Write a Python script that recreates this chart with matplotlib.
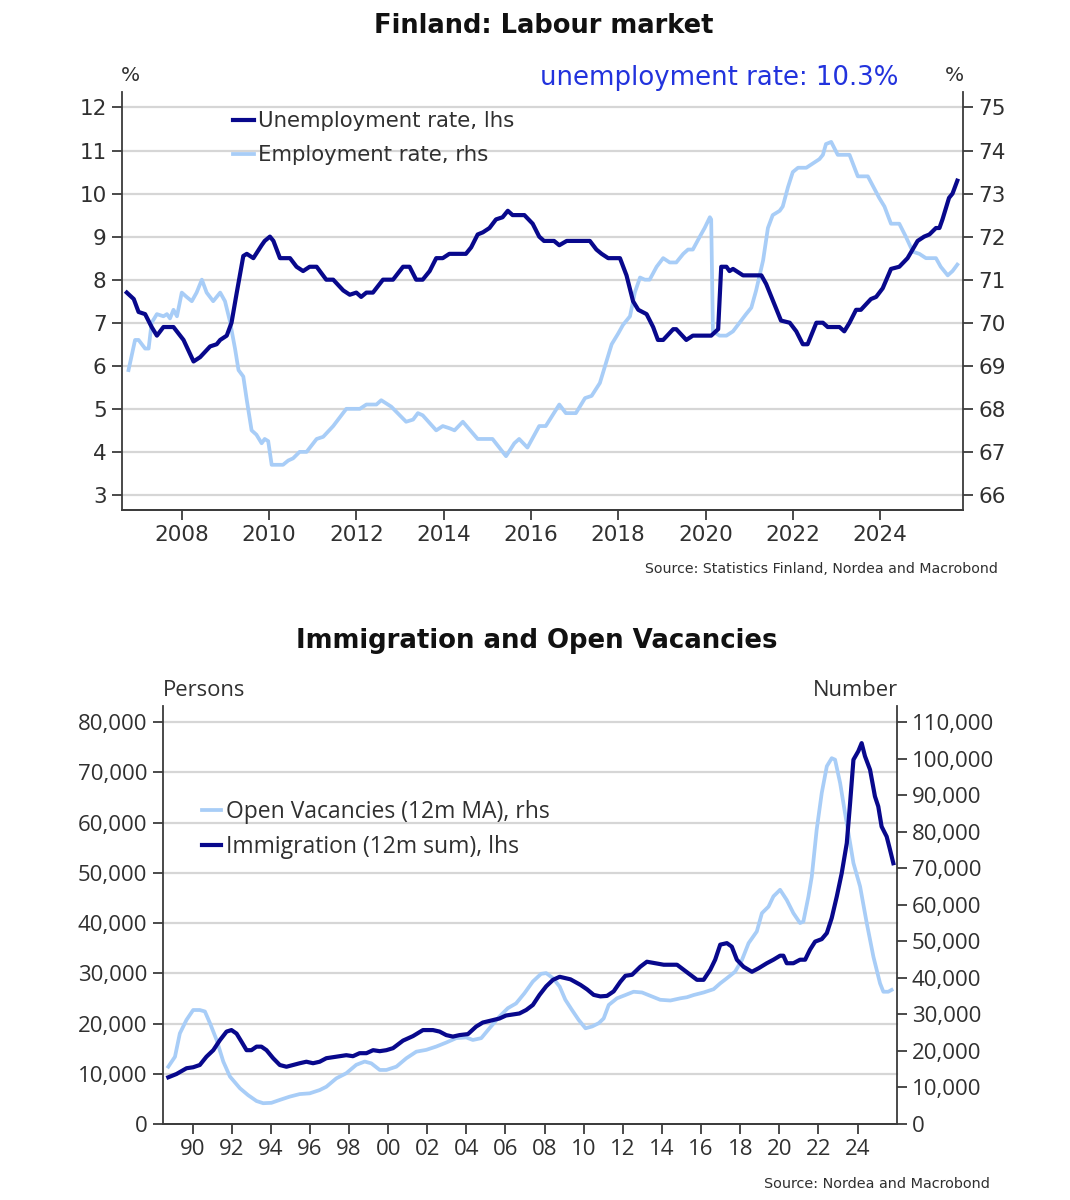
import matplotlib
matplotlib.use("Agg")
import matplotlib.pyplot as plt
from matplotlib.ticker import FuncFormatter

# ── Data ────────────────────────────────────────────────────────────────────

unemp_t = [2006.74, 2006.90, 2007.01, 2007.16, 2007.31, 2007.43, 2007.58, 2007.81,
           2008.04, 2008.27, 2008.42, 2008.65, 2008.80, 2008.88, 2009.03, 2009.14,
           2009.26, 2009.41, 2009.49, 2009.64, 2009.83, 2009.90, 2010.02, 2010.10,
           2010.25, 2010.48, 2010.63, 2010.78, 2010.93, 2011.09, 2011.31, 2011.47,
           2011.70, 2011.85, 2012.00, 2012.11, 2012.23, 2012.38, 2012.61, 2012.84,
           2013.07, 2013.22, 2013.37, 2013.52, 2013.68, 2013.83, 2013.98, 2014.13,
           2014.51, 2014.63, 2014.78, 2014.90, 2015.05, 2015.20, 2015.35, 2015.47,
           2015.58, 2015.85, 2016.04, 2016.19, 2016.30, 2016.53, 2016.65, 2016.82,
           2017.35, 2017.50, 2017.62, 2017.77, 2018.04, 2018.19, 2018.34, 2018.46,
           2018.65, 2018.80, 2018.91, 2019.03, 2019.26, 2019.33, 2019.56, 2019.71,
           2020.13, 2020.29, 2020.36, 2020.48, 2020.55, 2020.63, 2020.86, 2021.28,
           2021.39, 2021.73, 2021.93, 2022.08, 2022.23, 2022.34, 2022.54, 2022.69,
           2022.80, 2023.07, 2023.18, 2023.30, 2023.45, 2023.56, 2023.79, 2023.91,
           2024.06, 2024.25, 2024.44, 2024.63, 2024.86, 2025.01, 2025.13, 2025.28,
           2025.36, 2025.43, 2025.58, 2025.66, 2025.77]
unemp_v = [7.7, 7.55, 7.25, 7.2, 6.9, 6.7, 6.9, 6.9,
           6.6, 6.1, 6.2, 6.45, 6.5, 6.6, 6.7, 7.0,
           7.7, 8.55, 8.6, 8.5, 8.8, 8.9, 9.0, 8.9,
           8.5, 8.5, 8.3, 8.2, 8.3, 8.3, 8.0, 8.0,
           7.75, 7.65, 7.7, 7.6, 7.7, 7.7, 8.0, 8.0,
           8.3, 8.3, 8.0, 8.0, 8.2, 8.5, 8.5, 8.6,
           8.6, 8.75, 9.05, 9.1, 9.2, 9.4, 9.45, 9.6,
           9.5, 9.5, 9.3, 9.0, 8.9, 8.9, 8.8, 8.9,
           8.9, 8.7, 8.6, 8.5, 8.5, 8.1, 7.5, 7.3,
           7.2, 6.9, 6.6, 6.6, 6.85, 6.85, 6.6, 6.7,
           6.7, 6.85, 8.3, 8.3, 8.2, 8.25, 8.1, 8.1,
           7.9, 7.05, 7.0, 6.8, 6.5, 6.5, 7.0, 7.0,
           6.9, 6.9, 6.8, 7.0, 7.3, 7.3, 7.55, 7.6,
           7.8, 8.25, 8.3, 8.5, 8.9, 9.0, 9.05, 9.2,
           9.2, 9.4, 9.9, 10.0, 10.3]

emp_t = [2006.78, 2006.93, 2007.01, 2007.16, 2007.24, 2007.31, 2007.43, 2007.58,
         2007.66, 2007.73, 2007.81, 2007.89, 2008.00, 2008.11, 2008.23, 2008.34,
         2008.46, 2008.57, 2008.72, 2008.88, 2008.99, 2009.10, 2009.22, 2009.30,
         2009.41, 2009.49, 2009.60, 2009.71, 2009.83, 2009.90, 2009.98, 2010.06,
         2010.32, 2010.44, 2010.55, 2010.70, 2010.86, 2011.09, 2011.24, 2011.47,
         2011.77, 2012.08, 2012.23, 2012.46, 2012.57, 2012.80, 2013.14, 2013.30,
         2013.41, 2013.52, 2013.83, 2013.98, 2014.13, 2014.25, 2014.44, 2014.78,
         2015.12, 2015.43, 2015.62, 2015.73, 2015.92, 2016.19, 2016.34, 2016.65,
         2016.80, 2017.03, 2017.24, 2017.39, 2017.58, 2017.73, 2017.85, 2018.00,
         2018.11, 2018.27, 2018.38, 2018.50, 2018.61, 2018.72, 2018.88, 2019.03,
         2019.18, 2019.33, 2019.49, 2019.60, 2019.71, 2019.87, 2019.98, 2020.10,
         2020.13, 2020.17, 2020.32, 2020.48, 2020.63, 2020.78, 2020.93, 2021.05,
         2021.16, 2021.32, 2021.43, 2021.54, 2021.70, 2021.77, 2021.89, 2022.00,
         2022.12, 2022.31, 2022.46, 2022.61, 2022.69, 2022.76, 2022.88, 2023.03,
         2023.30, 2023.49, 2023.72, 2023.98, 2024.10, 2024.25, 2024.44, 2024.59,
         2024.75, 2024.90, 2025.05, 2025.28, 2025.39, 2025.55, 2025.66, 2025.77]
emp_v = [68.9, 69.6, 69.6, 69.4, 69.4, 70.0, 70.2, 70.15,
         70.2, 70.1, 70.3, 70.15, 70.7, 70.6, 70.5, 70.7,
         71.0, 70.7, 70.5, 70.7, 70.5, 70.05, 69.4, 68.9,
         68.75, 68.2, 67.5, 67.4, 67.2, 67.3, 67.25, 66.7,
         66.7, 66.8, 66.85, 67.0, 67.0, 67.3, 67.35, 67.6,
         68.0, 68.0, 68.1, 68.1, 68.2, 68.05, 67.7, 67.75,
         67.9, 67.85, 67.5, 67.6, 67.55, 67.5, 67.7, 67.3,
         67.3, 66.9, 67.2, 67.3, 67.1, 67.6, 67.6, 68.1,
         67.9, 67.9, 68.25, 68.3, 68.6, 69.1, 69.5, 69.75,
         69.95, 70.15, 70.7, 71.05, 71.0, 71.0, 71.3, 71.5,
         71.4, 71.4, 71.6, 71.7, 71.7, 72.0, 72.2, 72.45,
         72.4, 69.8, 69.7, 69.7, 69.8, 70.0, 70.2, 70.35,
         70.75, 71.45, 72.2, 72.5, 72.6, 72.7, 73.15, 73.5,
         73.6, 73.6, 73.7, 73.8, 73.9, 74.15, 74.2, 73.9,
         73.9, 73.4, 73.4, 72.9, 72.7, 72.3, 72.3, 72.0,
         71.65, 71.6, 71.5, 71.5, 71.3, 71.1, 71.2, 71.35]

immig_t = [1988.76, 1989.18, 1989.69, 1990.03, 1990.37, 1990.71, 1991.06, 1991.40,
           1991.74, 1991.99, 1992.25, 1992.50, 1992.76, 1993.01, 1993.27, 1993.52,
           1993.78, 1994.12, 1994.46, 1994.80, 1995.14, 1995.48, 1995.82, 1996.16,
           1996.50, 1996.84, 1997.35, 1997.86, 1998.20, 1998.54, 1998.89, 1999.23,
           1999.57, 1999.91, 2000.25, 2000.76, 2001.27, 2001.78, 2002.29, 2002.63,
           2002.97, 2003.31, 2003.65, 2004.08, 2004.50, 2004.84, 2005.27, 2005.69,
           2006.03, 2006.37, 2006.71, 2007.06, 2007.40, 2007.74, 2008.08, 2008.43,
           2008.77, 2009.32, 2009.83, 2010.17, 2010.51, 2010.85, 2011.19, 2011.53,
           2011.87, 2012.13, 2012.47, 2012.89, 2013.23, 2013.66, 2014.09, 2014.43,
           2014.77, 2015.11, 2015.45, 2015.79, 2016.13, 2016.47, 2016.72, 2016.98,
           2017.32, 2017.57, 2017.83, 2018.17, 2018.60, 2018.94, 2019.36, 2019.70,
           2020.04, 2020.21, 2020.38, 2020.72, 2021.06, 2021.32, 2021.57, 2021.83,
           2022.17, 2022.43, 2022.68, 2022.94, 2023.19, 2023.45, 2023.62, 2023.79,
           2024.04, 2024.21, 2024.38, 2024.64, 2024.89, 2025.06, 2025.23, 2025.49,
           2025.66, 2025.83]
immig_v = [9300, 9960, 11100, 11300, 11750, 13400, 14700, 16700,
           18400, 18700, 18000, 16400, 14700, 14700, 15400, 15400,
           14700, 13100, 11750, 11400, 11750, 12100, 12400, 12100,
           12400, 13100, 13400, 13700, 13500, 14100, 14100, 14700,
           14500, 14700, 15100, 16600, 17500, 18700, 18700, 18400,
           17700, 17400, 17700, 17900, 19400, 20200, 20600, 21000,
           21600, 21800, 22000, 22700, 23700, 25700, 27400, 28700,
           29300, 28800, 27700, 26800, 25700, 25400, 25500, 26400,
           28300, 29500, 29700, 31300, 32300, 32000, 31700, 31700,
           31700, 30700, 29700, 28700, 28700, 30700, 32700, 35700,
           36000, 35300, 32700, 31300, 30300, 31000, 32000, 32700,
           33500, 33500, 32000, 32000, 32700, 32700, 34700, 36300,
           36800, 38000, 41000, 45300, 49900, 55900, 63900, 72500,
           74200, 75800, 73200, 70500, 65200, 63200, 59200, 57200,
           54600, 51900]

vac_t = [1988.76, 1989.10, 1989.35, 1989.69, 1990.03, 1990.37, 1990.63, 1990.89,
         1991.23, 1991.57, 1991.91, 1992.42, 1992.84, 1993.27, 1993.61, 1994.03,
         1994.46, 1994.97, 1995.48, 1995.99, 1996.50, 1996.84, 1997.35, 1997.86,
         1998.37, 1998.80, 1999.14, 1999.57, 1999.91, 2000.42, 2000.93, 2001.44,
         2001.95, 2002.46, 2002.97, 2003.48, 2003.99, 2004.33, 2004.76, 2005.18,
         2005.69, 2006.12, 2006.54, 2006.97, 2007.40, 2007.82, 2008.08, 2008.43,
         2008.77, 2009.06, 2009.40, 2009.74, 2010.09, 2010.43, 2010.77, 2011.02,
         2011.28, 2011.70, 2012.13, 2012.55, 2012.98, 2013.49, 2013.91, 2014.43,
         2014.94, 2015.28, 2015.62, 2016.13, 2016.64, 2016.98, 2017.32, 2017.74,
         2018.09, 2018.43, 2018.85, 2019.11, 2019.45, 2019.70, 2020.04, 2020.38,
         2020.72, 2021.06, 2021.23, 2021.49, 2021.66, 2021.91, 2022.17, 2022.43,
         2022.68, 2022.85, 2023.11, 2023.36, 2023.62, 2023.79, 2024.13, 2024.47,
         2024.81, 2025.15, 2025.32, 2025.57, 2025.74]
vac_v = [15700, 18400, 24800, 28500, 31200, 31200, 30800, 27600,
         23000, 17100, 13000, 9800, 7900, 6300, 5700, 5800,
         6600, 7500, 8200, 8400, 9300, 10200, 12500, 13900,
         16200, 17100, 16600, 14800, 14800, 15700, 18000, 19800,
         20300, 21200, 22300, 23500, 23700, 23000, 23500, 26200,
         29400, 31700, 33000, 35800, 39000, 41100, 41300, 39900,
         37600, 34000, 31200, 28500, 26200, 26700, 27600, 28900,
         32600, 34400, 35300, 36200, 36000, 34900, 34000, 33800,
         34400, 34700, 35300, 36000, 36900, 38500, 39900, 41700,
         44900, 49500, 52700, 57700, 59500, 62300, 64100, 61300,
         57700, 55000, 55400, 62300, 67700, 80500, 90600, 97900,
         100100, 99700, 93300, 85100, 76900, 71400, 65000, 55000,
         45800, 38500, 36200, 36200, 36700]

top_years = list(range(2008, 2025, 2))
top_lhs_ticks = list(range(3, 13))
top_rhs_ticks = list(range(66, 76))
bot_years = list(range(1990, 2025, 2))
bot_lhs_ticks = list(range(0, 80001, 10000))
bot_rhs_ticks = list(range(0, 110001, 10000))

# ── Styling ─────────────────────────────────────────────────────────────────

DARK = "#08088c"
LIGHT = "#a8cdf7"
GRID = "#d6d6d6"
SPINE = "#3c3c3c"
TXT = "#303030"

fig = plt.figure(figsize=(10.7, 12), dpi=100)


def style_axes(ax_l, ax_r, fs, family):
    for ax in (ax_l, ax_r):
        ax.spines["top"].set_visible(False)
        for s in ("left", "right", "bottom"):
            ax.spines[s].set_color(SPINE)
            ax.spines[s].set_linewidth(1.3)
        ax.tick_params(axis="both", length=7, width=1.3, color=SPINE,
                       labelsize=fs, labelcolor=TXT, pad=4)
        for lab in ax.get_xticklabels() + ax.get_yticklabels():
            lab.set_family(family)
    ax_r.spines["left"].set_visible(False)
    ax_l.spines["right"].set_visible(False)


def add_grid(ax_l, ax_r, ticks):
    # grid lines live in the back axes so both series are drawn on top
    for v in ticks:
        ax_r.plot([0, 1], [v, v], transform=ax_l.get_yaxis_transform(),
                  color=GRID, lw=1.6, zorder=0, clip_on=False)


# ── Top: Finland labour market ──────────────────────────────────────────────

ax1 = fig.add_axes([0.114, 0.575, 0.786, 0.348])
ax1r = ax1.twinx()
ax1.set_zorder(ax1r.get_zorder() + 1)
ax1.patch.set_visible(False)

ax1.set_xlim(2006.63, 2025.9)
ax1.set_ylim(2.65, 12.35)
ax1r.set_ylim(65.65, 75.35)
ax1.set_xticks(top_years)
ax1.set_xticklabels([str(y) for y in top_years])
ax1.set_yticks(top_lhs_ticks)
ax1r.set_yticks(top_rhs_ticks)
add_grid(ax1, ax1r, top_lhs_ticks)

ax1r.plot(emp_t, emp_v, color=LIGHT, lw=2.7, zorder=2,
          label="Employment rate, rhs")
ax1.plot(unemp_t, unemp_v, color=DARK, lw=3.0, zorder=3,
         label="Unemployment rate, lhs")
style_axes(ax1, ax1r, 15.5, "DejaVu Sans")

h1 = ax1.get_lines() + [ax1r.get_lines()[-1]]
ax1.legend(h1, [h.get_label() for h in h1], loc="upper left",
           bbox_to_anchor=(233 / 1070, 1 - 111 / 1200),
           bbox_transform=fig.transFigure, frameon=False, fontsize=15.3,
           handlelength=1.0, handletextpad=0.2, labelspacing=0.68,
           borderaxespad=0, borderpad=0, labelcolor=TXT)

fig.text(0.508, 0.978, "Finland: Labour market", ha="center", va="center",
         fontsize=18.5, fontweight="bold", color="#111111")
fig.text(0.122, 0.937, "%", ha="center", va="center", fontsize=14.5, color=TXT)
fig.text(0.892, 0.937, "%", ha="center", va="center", fontsize=14.5, color=TXT)
fig.text(0.672, 0.935, "unemployment rate: 10.3%", ha="center", va="center",
         fontsize=18.7, color="#2233dd")
fig.text(0.933, 0.526, "Source: Statistics Finland, Nordea and Macrobond",
         ha="right", va="center", fontsize=10.2, color=TXT)

# ── Bottom: immigration and open vacancies ──────────────────────────────────

ax2 = fig.add_axes([0.152, 0.0633, 0.686, 0.348])
ax2r = ax2.twinx()
ax2.set_zorder(ax2r.get_zorder() + 1)
ax2.patch.set_visible(False)

ax2.set_xlim(1988.47, 2026.0)
ax2.set_ylim(0, 83100)
ax2r.set_ylim(0, 83100 * 110 / 80)
ax2.set_xticks(bot_years)
ax2.set_xticklabels([f"{y % 100:02d}" for y in bot_years])
ax2.set_yticks(bot_lhs_ticks)
ax2r.set_yticks(bot_rhs_ticks)
comma = FuncFormatter(lambda v, p: f"{int(v):,}")
ax2.yaxis.set_major_formatter(comma)
ax2r.yaxis.set_major_formatter(comma)
add_grid(ax2, ax2r, bot_lhs_ticks[1:])

ax2r.plot(vac_t, vac_v, color=LIGHT, lw=2.7, zorder=2,
          label="Open Vacancies (12m MA), rhs")
ax2.plot(immig_t, immig_v, color=DARK, lw=3.0, zorder=3,
         label="Immigration (12m sum), lhs")
style_axes(ax2, ax2r, 16, "Open Sans")

h2 = [ax2r.get_lines()[-1]] + ax2.get_lines()
ax2.legend(h2, [h.get_label() for h in h2], loc="upper left",
           bbox_to_anchor=(202 / 1070, 1 - 800 / 1200),
           bbox_transform=fig.transFigure, frameon=False,
           prop={"family": "Open Sans", "size": 16.5},
           handlelength=0.85, handletextpad=0.2, labelspacing=0.5,
           borderaxespad=0, borderpad=0, labelcolor=TXT)

fig.text(0.502, 0.466, "Immigration and Open Vacancies", ha="center",
         va="center", fontsize=18.7, fontweight="bold", color="#111111")
fig.text(0.152, 0.425, "Persons", ha="left", va="center", fontsize=15.8,
         family="Open Sans", color=TXT)
fig.text(0.839, 0.425, "Number", ha="right", va="center", fontsize=15.8,
         family="Open Sans", color=TXT)
fig.text(0.925, 0.0135, "Source: Nordea and Macrobond", ha="right",
         va="center", fontsize=10.4, color=TXT)

fig.savefig("out.png", dpi=100)
